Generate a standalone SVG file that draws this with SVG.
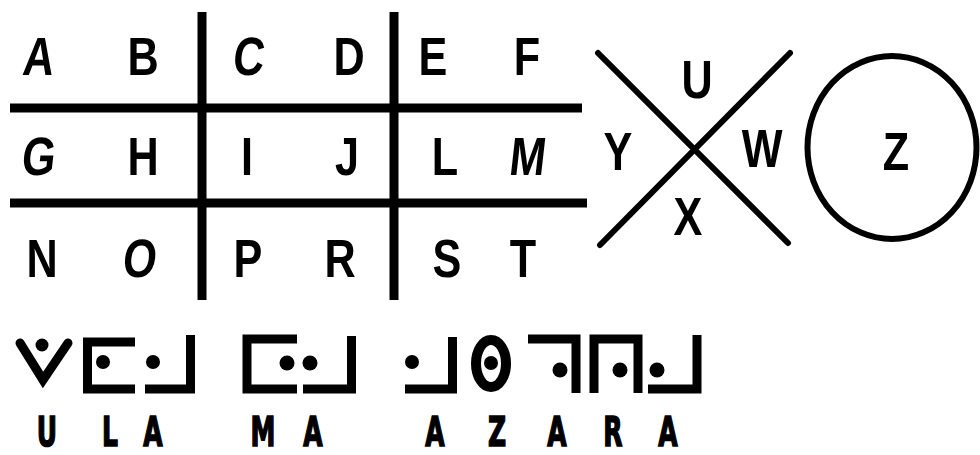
<svg xmlns="http://www.w3.org/2000/svg" width="980" height="455" viewBox="0 0 980 455">
<style>
.ln{stroke:#000;stroke-width:9;fill:none}
.xl{stroke:#000;stroke-width:6;stroke-linecap:round;fill:none}
.sym{stroke:#000;stroke-width:9;fill:none;stroke-linejoin:miter}
.dot{fill:#000}
.lt{font-family:"Liberation Sans",Arial,sans-serif;font-weight:bold;font-size:54px;text-anchor:middle;fill:#000}
.bt{font-family:"DejaVu Sans",sans-serif;font-weight:bold;font-size:50px;text-anchor:middle;fill:#000;stroke:#000;stroke-width:2}
</style>
<rect width="980" height="455" fill="#fff"/>
<g id="grid">
<line class="ln" x1="202" y1="12" x2="202" y2="300"/>
<line class="ln" x1="394" y1="12" x2="394" y2="300"/>
<line class="ln" x1="10" y1="108" x2="582" y2="108"/>
<line class="ln" x1="10" y1="203" x2="587" y2="203"/>
</g>
<g id="grid-letters">
<text class="lt" transform="translate(37,75) scale(0.8,1) skewX(-8)">A</text>
<text class="lt" transform="translate(143,75) scale(0.8,1)">B</text>
<text class="lt" transform="translate(247,75) scale(0.8,1) skewX(-8)">C</text>
<text class="lt" transform="translate(349,75) scale(0.8,1)">D</text>
<text class="lt" transform="translate(433,75) scale(0.8,1)">E</text>
<text class="lt" transform="translate(527,75) scale(0.8,1)">F</text>
<text class="lt" transform="translate(37,175) scale(0.8,1) skewX(-8)">G</text>
<text class="lt" transform="translate(143,175) scale(0.8,1)">H</text>
<text class="lt" transform="translate(247,175) scale(0.8,1)">I</text>
<text class="lt" transform="translate(347,175) scale(0.8,1)">J</text>
<text class="lt" transform="translate(445,175) scale(0.8,1)">L</text>
<text class="lt" transform="translate(526,175) scale(0.8,1) skewX(-8)">M</text>
<text class="lt" transform="translate(42,277) scale(0.8,1)">N</text>
<text class="lt" transform="translate(138,277) scale(0.8,1) skewX(-8)">O</text>
<text class="lt" transform="translate(248,277) scale(0.8,1)">P</text>
<text class="lt" transform="translate(340,277) scale(0.8,1)">R</text>
<text class="lt" transform="translate(447,277) scale(0.8,1)">S</text>
<text class="lt" transform="translate(523,277) scale(0.8,1)">T</text>
</g>
<g id="x-figure">
<line class="xl" x1="598" y1="53" x2="788" y2="243"/>
<line class="xl" x1="790" y1="53" x2="600" y2="245"/>
<text class="lt" transform="translate(697,98) scale(0.8,1)">U</text>
<text class="lt" transform="translate(762,167) scale(0.8,1)">W</text>
<text class="lt" transform="translate(688,235) scale(0.8,1)">X</text>
<text class="lt" transform="translate(618,170) scale(0.8,1)">Y</text>
</g>
<g id="circle-figure">
<ellipse cx="892" cy="147.5" rx="84.5" ry="91.5" fill="none" stroke="#000" stroke-width="6"/>
<text class="lt" transform="translate(896,170) scale(0.8,1)">Z</text>
</g>
<g id="cipher">
<polyline class="sym" points="20,343 43,380 68,343" stroke-linecap="round" stroke-linejoin="round"/>
<circle class="dot" cx="42" cy="345" r="6.5"/>
<path class="sym" d="M135,342 H87.5 V389 H135"/>
<circle class="dot" cx="103" cy="362" r="7"/>
<circle class="dot" cx="153" cy="362" r="7"/>
<path class="sym" d="M190.5,335 V389 H145"/>
<path class="sym" d="M297,339 H247 V389 H297"/>
<circle class="dot" cx="287" cy="363" r="7.5"/>
<circle class="dot" cx="310" cy="363" r="7.5"/>
<path class="sym" d="M351.5,336 V389 H303"/>
<circle class="dot" cx="412" cy="362" r="7"/>
<path class="sym" d="M452.5,337 V389 H405"/>
<ellipse cx="491" cy="363.5" rx="15" ry="23.5" fill="none" stroke="#000" stroke-width="10"/>
<circle class="dot" cx="491" cy="363" r="7"/>
<path class="sym" d="M528,339 H576 V393"/>
<circle class="dot" cx="560" cy="370" r="7.5"/>
<path class="sym" d="M594,393 V339 H638 V393"/>
<circle class="dot" cx="620" cy="370" r="7.5"/>
<circle class="dot" cx="657" cy="370" r="7.5"/>
<path class="sym" d="M697,335 V389 H648"/>
</g>
<g id="plain-text">
<text class="bt" transform="translate(47,446) scale(0.5,0.8)">U</text>
<text class="bt" transform="translate(110,446) scale(0.5,0.8)">L</text>
<text class="bt" transform="translate(153,446) scale(0.5,0.8)">A</text>
<text class="bt" transform="translate(263,446) scale(0.5,0.8)">M</text>
<text class="bt" transform="translate(313,446) scale(0.5,0.8)">A</text>
<text class="bt" transform="translate(435,446) scale(0.5,0.8)">A</text>
<text class="bt" transform="translate(497,446) scale(0.5,0.8)">Z</text>
<text class="bt" transform="translate(557,446) scale(0.5,0.8)">A</text>
<text class="bt" transform="translate(613,446) scale(0.5,0.8)">R</text>
<text class="bt" transform="translate(668,446) scale(0.5,0.8)">A</text>
</g>
</svg>
